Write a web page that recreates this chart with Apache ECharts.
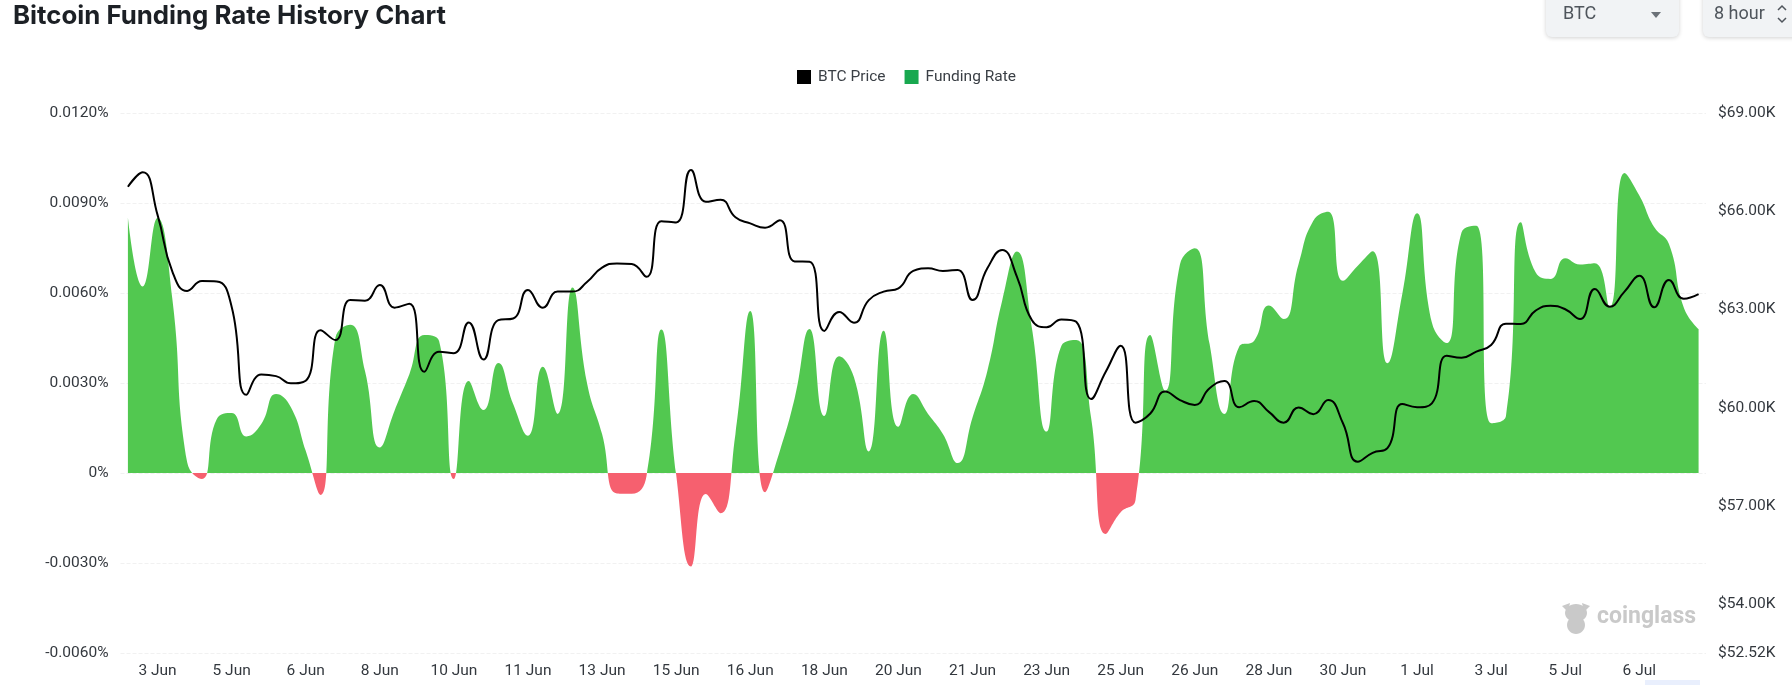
<!DOCTYPE html>
<html>
<head>
<meta charset="utf-8">
<style>html,body{margin:0;padding:0;background:#fff}#chart{width:1792px;height:685px}</style>
<script src="https://cdn.jsdelivr.net/npm/echarts@6/dist/echarts.min.js"></script>
</head>
<body>
<div id="chart"></div>
<script>
// One entry per 8-hour funding interval, first interval 2 Jun 16:00
const dayOrder = [
  '2 Jun',
  '3 Jun','3 Jun','3 Jun','4 Jun','4 Jun','4 Jun','5 Jun','5 Jun','5 Jun','6 Jun','6 Jun','6 Jun',
  '7 Jun','7 Jun','7 Jun','8 Jun','8 Jun','8 Jun','9 Jun','9 Jun','9 Jun','10 Jun','10 Jun','10 Jun',
  '11 Jun','11 Jun','11 Jun','12 Jun','12 Jun','12 Jun','13 Jun','13 Jun','13 Jun','14 Jun','14 Jun','14 Jun',
  '15 Jun','15 Jun','15 Jun','16 Jun','16 Jun','16 Jun','17 Jun','17 Jun','17 Jun','18 Jun','18 Jun','18 Jun',
  '19 Jun','19 Jun','19 Jun','20 Jun','20 Jun','20 Jun','21 Jun','21 Jun','21 Jun','22 Jun','22 Jun','22 Jun',
  '23 Jun','23 Jun','23 Jun','24 Jun','24 Jun','24 Jun','25 Jun','25 Jun','25 Jun','26 Jun','26 Jun','26 Jun',
  '27 Jun','27 Jun','27 Jun','28 Jun','28 Jun','28 Jun','29 Jun','29 Jun','29 Jun','30 Jun','30 Jun','30 Jun',
  '1 Jul','1 Jul','1 Jul','2 Jul','2 Jul','2 Jul','3 Jul','3 Jul','3 Jul','4 Jul','4 Jul','4 Jul',
  '5 Jul','5 Jul','5 Jul','6 Jul','6 Jul','6 Jul','7 Jul','7 Jul','7 Jul','8 Jul'
];

// Funding rate, percent
const fundingRate = [
  0.00852,0.00622,0.0085,0.0058,0.00036,-0.0002,0.0018,0.0020,0.00122,0.00163,
  0.00263,0.00219,0.00074,-0.00073,0.0045,0.00494,0.0034,0.00085,0.00208,0.0033,
  0.0046,0.0044,-0.0002,0.00307,0.0021,0.00367,0.0023,0.00124,0.00354,0.00197,
  0.00618,0.00296,0.0013,-0.00068,-0.00069,-0.0001,0.00478,-0.00005,-0.00312,-0.0007,
  -0.00134,0.0013,0.0054,-0.00064,0.00074,0.0025,0.0048,0.0019,0.00389,0.00319,
  0.00072,0.00474,0.00154,0.00263,0.00197,0.0013,0.00033,0.00185,0.0034,0.00574,
  0.00738,0.00485,0.00138,0.00424,0.00443,0.00185,-0.00203,-0.00131,-0.0009,0.0046,
  0.00274,0.00696,0.00749,0.0043,0.00197,0.00422,0.0044,0.00558,0.00513,0.00696,
  0.00841,0.00871,0.00641,0.00691,0.00739,0.00366,0.00596,0.00866,0.00502,0.00433,
  0.00802,0.00824,0.00166,0.0019,0.00836,0.00669,0.00647,0.00716,0.00695,0.00699,
  0.00552,0.0100,0.00925,0.0082,0.00763,0.00552,0.0048
];

// BTC price, thousands of USD
const btcPrice = [
  66.75,67.19,65.89,64.16,63.57,63.87,63.86,63.09,60.4,61.02,
  60.97,60.75,60.83,62.37,62.07,63.29,63.27,63.75,63.06,63.18,
  61.1,61.71,61.67,62.61,61.48,62.68,62.73,63.6,63.06,63.55,
  63.55,63.85,64.28,64.41,64.39,64.0,65.7,65.66,67.26,66.29,
  66.35,65.82,65.63,65.5,65.73,64.47,64.46,62.35,62.93,62.6,
  63.29,63.55,63.65,64.18,64.26,64.18,64.21,63.29,64.26,64.82,
  64.0,62.68,62.46,62.7,62.63,60.27,61.11,61.9,59.55,59.83,
  60.5,60.24,60.09,60.6,60.82,60.02,60.21,59.88,59.55,60.01,
  59.81,60.24,59.53,58.36,58.63,58.77,60.12,60.02,60.14,61.59,
  61.53,61.72,61.92,62.57,62.56,62.97,63.12,63.01,62.71,63.63,
  63.09,63.55,64.03,63.07,63.9,63.33,63.47
];

const priceTicks = [52.52, 54, 57, 60, 63, 66, 69];

const GREEN = '#52c850';
const RED = '#f6606f';
const AXIS_FONT = 'Roboto';
const GRID_TOP = 113;
const GRID_BOTTOM_Y = 653;
const RATE_MIN = -0.006;
const RATE_MAX = 0.012;

// Hard colour stop where the rate axis passes through zero
const zeroStop = RATE_MAX / (RATE_MAX - RATE_MIN);
const signFill = new echarts.graphic.LinearGradient(0, GRID_TOP, 0, GRID_BOTTOM_Y, [
  {offset: 0, color: GREEN},
  {offset: zeroStop, color: GREEN},
  {offset: zeroStop, color: RED},
  {offset: 1, color: RED}
], true);

const chart = echarts.init(document.getElementById('chart'), null, {renderer: 'canvas'});

chart.setOption({
  animation: false,
  backgroundColor: '#fff',
  title: {
    text: 'Bitcoin Funding Rate History Chart',
    left: 8, top: -2,
    textStyle: {fontFamily: 'Inter', fontWeight: 700, fontSize: 25.8, color: '#1c2025'}
  },
  legend: {
    left: 792, top: 64,
    itemWidth: 14, itemHeight: 14, itemGap: 19,
    textStyle: {fontFamily: AXIS_FONT, fontSize: 15.5, color: '#3a3f45', padding: [0, 0, 0, 2]},
    data: [
      {name: 'BTC Price', icon: 'rect', itemStyle: {color: '#000'}},
      {name: 'Funding Rate', icon: 'rect', itemStyle: {color: '#18a84f'}}
    ]
  },
  grid: {left: 120.5, right: 86, top: GRID_TOP, bottom: 685 - GRID_BOTTOM_Y},
  xAxis: {
    type: 'category',
    data: dayOrder,
    axisLine: {show: false, onZero: false},
    axisTick: {show: false},
    axisLabel: {
      interval: (i) => i % 5 === 2,
      margin: 10,
      fontFamily: AXIS_FONT, fontSize: 15.5, color: '#33383e'
    }
  },
  yAxis: [
    {
      type: 'value', min: RATE_MIN, max: RATE_MAX, interval: 0.003,
      axisLine: {show: false}, axisTick: {show: false},
      splitLine: {show: true, lineStyle: {color: '#f1f1f1', type: 'dashed', width: 1}},
      axisLabel: {
        margin: 12, fontFamily: AXIS_FONT, fontSize: 15.5, color: '#33383e', padding: [3, 0, 0, 0],
        formatter: (v) => (Math.abs(v) < 1e-9 ? '0%' : v.toFixed(4) + '%')
      }
    },
    {
      type: 'value', min: 52.52, max: 69, position: 'right',
      axisLine: {show: false}, axisTick: {show: false}, splitLine: {show: false},
      axisLabel: {
        customValues: priceTicks,
        margin: 12, fontFamily: AXIS_FONT, fontSize: 15.5, color: '#33383e', padding: [3, 0, 0, 0],
        formatter: (v) => '$' + v.toFixed(2) + 'K'
      }
    }
  ],
  series: [
    {
      name: 'Funding Rate', type: 'line', yAxisIndex: 0, data: fundingRate,
      smooth: true, showSymbol: false, symbol: 'none',
      lineStyle: {width: 0},
      areaStyle: {color: signFill, opacity: 1}
    },
    {
      name: 'BTC Price', type: 'line', yAxisIndex: 1, data: btcPrice,
      smooth: true, showSymbol: false, symbol: 'none',
      lineStyle: {color: '#000', width: 2}, itemStyle: {color: '#000'}
    }
  ],
  graphic: [
    {type: 'rect', shape: {x: 1546, y: -12, width: 133, height: 49, r: 6},
      style: {fill: '#f1f3f5', shadowBlur: 4, shadowColor: 'rgba(0,0,0,0.18)', shadowOffsetY: 1}},
    {type: 'text', style: {text: 'BTC', x: 1563, y: 5, fill: '#4f555c', font: '18px Roboto'}},
    {type: 'polygon', shape: {points: [[1651, 12], [1661, 12], [1656, 18]]}, style: {fill: '#6b7178'}},
    {type: 'rect', shape: {x: 1703, y: -12, width: 100, height: 49, r: 6},
      style: {fill: '#f1f3f5', shadowBlur: 4, shadowColor: 'rgba(0,0,0,0.18)', shadowOffsetY: 1}},
    {type: 'text', style: {text: '8 hour', x: 1714, y: 5, fill: '#4f555c', font: '18px Roboto'}},
    {type: 'polyline', shape: {points: [[1778, 10], [1782, 6], [1786, 10]]}, style: {stroke: '#4f555c', lineWidth: 1.5, fill: null}},
    {type: 'polyline', shape: {points: [[1778, 18], [1782, 22], [1786, 18]]}, style: {stroke: '#4f555c', lineWidth: 1.5, fill: null}},
    // coinglass mascot and wordmark
    {type: 'ellipse', shape: {cx: 1576, cy: 613, rx: 11, ry: 9}, style: {fill: '#c9c9c9'}},
    {type: 'ellipse', shape: {cx: 1576, cy: 625, rx: 9, ry: 9}, style: {fill: '#c9c9c9'}},
    {type: 'polygon', shape: {points: [[1562, 606], [1570, 603], [1568, 612]]}, style: {fill: '#c9c9c9'}},
    {type: 'polygon', shape: {points: [[1590, 606], [1582, 603], [1584, 612]]}, style: {fill: '#c9c9c9'}},
    {type: 'text', style: {text: 'coinglass', x: 1597, y: 606, fill: '#c9c9c9', font: 'bold 23px Roboto'}},
    {type: 'rect', shape: {x: 1645, y: 680, width: 55, height: 5}, style: {fill: '#e9effd'}}
  ]
});
</script>
</body>
</html>
